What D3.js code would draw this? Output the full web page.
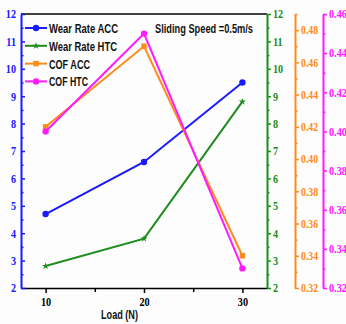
<!DOCTYPE html>
<html><head><meta charset="utf-8">
<script src="https://cdn.jsdelivr.net/npm/d3@7"></script>
<style>body{margin:0;background:#fdfdfd}svg{display:block}
.tl{font-family:"Liberation Serif","Times New Roman",serif !important;font-weight:bold;font-size:12px}</style>
</head><body>
<script>
const loads = [10, 20, 30];
const wearACC = [4.7, 6.6, 9.5];
const wearHTC = [2.8, 3.8, 8.8];
const cofACC = [0.42, 0.47, 0.34];
const cofHTC = [0.40, 0.45, 0.33];
const legendLabels = ["Wear Rate ACC", "Wear Rate HTC", "COF ACC", "COF HTC"];
const xTicks = [10, 20, 30];
const wearTicks = [2,3,4,5,6,7,8,9,10,11,12];
const cofAccTicks = [0.32,0.34,0.36,0.38,0.40,0.42,0.44,0.46,0.48];
const cofHtcTicks = [0.32,0.34,0.36,0.38,0.40,0.42,0.44,0.46];

(function(){
const W = 346, H = 324;
const pT = 14, pB = 288, pL = 21, pR = 267;
const svg = d3.select("body").append("svg").attr("width", W).attr("height", H);
svg.append("rect").attr("width", W).attr("height", H).attr("fill", "#fdfdfd");

const x = d3.scaleLinear().domain([7.5, 32.5]).range([pL, pR]);
const yW = d3.scaleLinear().domain([2, 12]).range([pB, pT]);
const yA = d3.scaleLinear().domain([0.32, 0.49]).range([pB, pT]);
const yH = d3.scaleLinear().domain([0.32, 0.46]).range([pB, pT]);

const BLUE = "#1a1aff", GREEN = "#1e8c1e", ORANGE = "#ff8c1a", MAG = "#ff1aff";

function styleAxis(g, color, sx) {
  g.attr("font-family", null).attr("font-size", null);
  g.selectAll("path.domain").attr("stroke", color).attr("stroke-width", 2);
  g.selectAll(".tick line").attr("stroke", color).attr("stroke-width", 1.5);
  g.selectAll("text").attr("fill", color).attr("class", "tl")
    .each(function() {
      const t = d3.select(this);
      const xx = +t.attr("x") || 0;
      t.attr("x", xx / sx).attr("transform", `scale(${sx},1)`);
    });
}

function minor(axisFn, scale, vals, size, color, tx, ty) {
  const g = svg.append("g").attr("transform", `translate(${tx},${ty})`)
    .call(axisFn(scale).tickValues(vals).tickSize(size).tickFormat(""));
  g.select("path.domain").remove();
  g.selectAll(".tick line").attr("stroke", color).attr("stroke-width", 1.5);
}

svg.append("line").attr("x1", pL).attr("x2", pR).attr("y1", pT).attr("y2", pT)
  .attr("stroke", "#000").attr("stroke-width", 1.5);

const gx = svg.append("g").attr("transform", `translate(0,${pB})`)
  .call(d3.axisBottom(x).tickValues(xTicks).tickSize(5).tickPadding(4).tickSizeOuter(0));
styleAxis(gx, "#000", 0.85);
gx.selectAll("path.domain").attr("stroke-width", 1.5);
minor(d3.axisBottom, x, [15, 25], 4, "#000", 0, pB);

const gl = svg.append("g").attr("transform", `translate(${pL},0)`)
  .call(d3.axisLeft(yW).tickValues(wearTicks).tickSize(-4).tickPadding(5).tickSizeOuter(0));
styleAxis(gl, BLUE, 0.85);
minor(d3.axisLeft, yW, wearTicks.slice(0, -1).map(v => v + 0.5), -2.5, BLUE, pL, 0);

const gg = svg.append("g").attr("transform", `translate(${pR},0)`)
  .call(d3.axisRight(yW).tickValues(wearTicks).tickSize(4).tickPadding(2).tickSizeOuter(0));
styleAxis(gg, GREEN, 0.85);
minor(d3.axisRight, yW, wearTicks.slice(0, -1).map(v => v + 0.5), 2.5, GREEN, pR, 0);

const xo = 295;
const go = svg.append("g").attr("transform", `translate(${xo},0)`)
  .call(d3.axisRight(yA).tickValues(cofAccTicks).tickSize(4).tickPadding(2).tickSizeOuter(0)
    .tickFormat(d3.format(".2f")));
styleAxis(go, ORANGE, 0.82);
minor(d3.axisRight, yA, d3.range(0.33, 0.495, 0.02), 2.5, ORANGE, xo, 0);

const xm = 323;
const gm = svg.append("g").attr("transform", `translate(${xm},0)`)
  .call(d3.axisRight(yH).tickValues(cofHtcTicks).tickSize(4).tickPadding(2).tickSizeOuter(0)
    .tickFormat(d3.format(".2f")));
styleAxis(gm, MAG, 0.85);
minor(d3.axisRight, yH, d3.range(0.33, 0.455, 0.02), 2.5, MAG, xm, 0);

const series = [
  {vals: wearACC, y: yW, color: BLUE, mark: "circle"},
  {vals: wearHTC, y: yW, color: GREEN, mark: "star"},
  {vals: cofACC, y: yA, color: ORANGE, mark: "square"},
  {vals: cofHTC, y: yH, color: MAG, mark: "circle"}
];
const symMap = {circle: d3.symbolCircle, star: d3.symbolStar, square: d3.symbolSquare};
const symSize = {circle: 32, star: 16, square: 30};

series.forEach(s => {
  const line = d3.line().x((d, i) => x(loads[i])).y(d => s.y(d));
  svg.append("path").attr("d", line(s.vals)).attr("fill", "none")
    .attr("stroke", s.color).attr("stroke-width", 2);
  svg.selectAll(null).data(s.vals).enter().append("path")
    .attr("d", d3.symbol(symMap[s.mark], symSize[s.mark]))
    .attr("transform", (d, i) => `translate(${x(loads[i])},${s.y(d)})`)
    .attr("fill", s.color);
});

const legLens = [69, 68, 41, 39];
legendLabels.forEach((lab, i) => {
  const ly = 28 + i * 17.8;
  const s = series[i];
  svg.append("line").attr("x1", 25).attr("x2", 47).attr("y1", ly).attr("y2", ly)
    .attr("stroke", s.color).attr("stroke-width", 2);
  svg.append("path").attr("d", d3.symbol(symMap[s.mark], symSize[s.mark])())
    .attr("transform", `translate(36,${ly})`).attr("fill", s.color);
  svg.append("text").attr("x", 49).attr("y", ly + 5).text(lab)
    .attr("font-family", "Liberation Sans, Arial, sans-serif").attr("font-weight", "bold")
    .attr("font-size", 13).attr("fill", "#111")
    .attr("textLength", legLens[i]).attr("lengthAdjust", "spacingAndGlyphs");
});

svg.append("text").attr("x", 155).attr("y", 32.5).text("Sliding Speed =0.5m/s")
  .attr("font-family", "Liberation Sans, Arial, sans-serif").attr("font-weight", "bold")
  .attr("font-size", 13).attr("fill", "#111")
  .attr("textLength", 98).attr("lengthAdjust", "spacingAndGlyphs");

svg.append("text").attr("x", 101).attr("y", 319).text("Load (N)")
  .attr("font-family", "Liberation Sans, Arial, sans-serif").attr("font-weight", "bold")
  .attr("font-size", 13).attr("fill", "#111")
  .attr("textLength", 37).attr("lengthAdjust", "spacingAndGlyphs");
})();
</script>
</body></html>
